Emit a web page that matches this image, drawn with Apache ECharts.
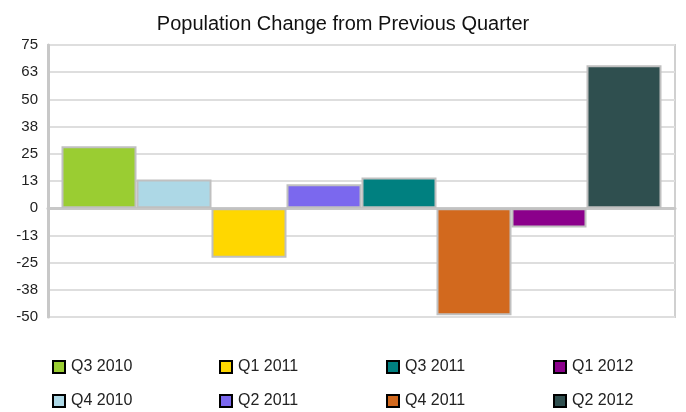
<!DOCTYPE html>
<html>
<head>
<meta charset="utf-8">
<script src="https://cdn.jsdelivr.net/npm/echarts@6/dist/echarts.min.js"></script>
<style>
html,body{margin:0;padding:0;background:#fff;}
#main{width:686px;height:412px;}
</style>
</head>
<body>
<div id="main"></div>
<script>
// quarters, one bar each
var quarters=['Q3 2010','Q4 2010','Q1 2011','Q2 2011','Q3 2011','Q4 2011','Q1 2012','Q2 2012'];
var changes=[28.5,13.2,-22.8,11,14.1,-49.2,-8.9,65.7];
var barColors=['#9acd32','#add8e6','#ffd700','#7b68ee','#008080','#d2691e','#8b008b','#2f4f4f'];
var yMin=-50, yMax=75, yStep=12.5;

var chart=echarts.init(document.getElementById('main'));

var series=[];
for(var i=0;i<quarters.length;i++){
	series.push({
		name:quarters[i],
		type:'bar',
		data:[changes[i]],
		barWidth:75,
		barGap:'0%',
		itemStyle:{color:barColors[i],borderColor:'#c0c0c0',borderWidth:2}
	});
}

// legend: 4 columns x 2 rows, one component per entry
var legends=[];
var colLeft=[52,219,386,553];
var rowTop=[359,393];
for(var k=0;k<quarters.length;k++){
	legends.push({
		data:[quarters[k]],
		left:colLeft[Math.floor(k/2)],
		top:rowTop[k%2],
		icon:'rect',
		itemWidth:12,
		itemHeight:12,
		itemGap:0,
		padding:0,
		itemStyle:{borderColor:'#000',borderWidth:2},
		textStyle:{fontFamily:'Liberation Sans',fontSize:16,color:'#222',lineHeight:16,padding:[0,0,0,1]}
	});
}

chart.setOption({
	animation:false,
	title:{
		text:'Population Change from Previous Quarter',
		left:'center',
		top:9,
		textStyle:{fontFamily:'Liberation Sans',fontSize:20,fontWeight:'normal',color:'#111'}
	},
	grid:{left:48,right:11,top:45,bottom:95,show:true,borderColor:'#d0d0d0',borderWidth:2},
	legend:legends,
	xAxis:{
		type:'category',
		data:['Change'],
		axisLine:{lineStyle:{color:'#c8c8c8',width:3}},
		axisTick:{show:false},
		axisLabel:{show:false}
	},
	yAxis:{
		type:'value',
		min:yMin,max:yMax,interval:yStep,
		axisLine:{show:true,lineStyle:{color:'#c8c8c8',width:3}},
		axisTick:{show:false},
		splitLine:{lineStyle:{color:'#dedede',width:2}},
		axisLabel:{
			fontFamily:'Liberation Sans',fontSize:15,color:'#222',margin:10,
			formatter:function(v){
				var r=Math.round(Math.abs(v));
				return (v<0?'-':'')+r;
			}
		}
	},
	series:series
});
</script>
</body>
</html>
